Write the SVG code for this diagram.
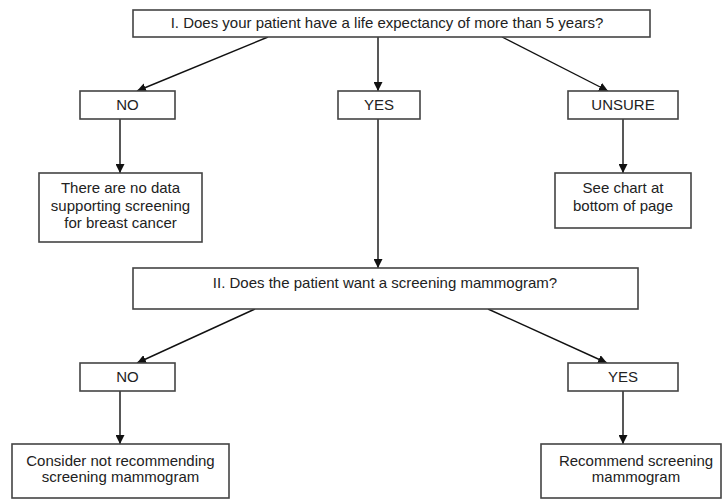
<svg xmlns="http://www.w3.org/2000/svg" width="723" height="500" viewBox="0 0 723 500">
<defs>
<marker id="ah" viewBox="0 0 10 10" refX="10" refY="5" markerWidth="9" markerHeight="9" markerUnits="userSpaceOnUse" orient="auto">
<path d="M0,0 L10,5 L0,10 z" fill="#111"/>
</marker>
<style>
.box{fill:#fff;stroke:#444;stroke-width:1.6}
.t{font-family:"Liberation Sans",Arial,sans-serif;font-size:15px;fill:#222;text-anchor:middle}
.c{stroke:#111;stroke-width:1.4;fill:none;marker-end:url(#ah)}
</style>
</defs>
<rect width="723" height="500" fill="#fff"/>
<g id="connectors">
<line class="c" x1="268" y1="37" x2="137" y2="91"/>
<line class="c" x1="378" y1="37" x2="378" y2="91"/>
<line class="c" x1="502" y1="37" x2="608" y2="91"/>
<line class="c" x1="120" y1="119" x2="120" y2="173"/>
<line class="c" x1="623" y1="119" x2="623" y2="173"/>
<line class="c" x1="378" y1="119" x2="378" y2="268"/>
<line class="c" x1="255" y1="309" x2="137" y2="363"/>
<line class="c" x1="488" y1="309" x2="607" y2="363"/>
<line class="c" x1="120" y1="391" x2="120" y2="444"/>
<line class="c" x1="623" y1="391" x2="623" y2="444"/>
</g>
<g id="q1">
<rect class="box" x="133" y="10" width="517" height="27"/>
<text class="t" x="387" y="28">I. Does your patient have a life expectancy of more than 5 years?</text>
</g>
<g id="no1">
<rect class="box" x="80" y="91" width="95" height="28"/>
<text class="t" x="127.5" y="110">NO</text>
</g>
<g id="yes1">
<rect class="box" x="338" y="91" width="82" height="28"/>
<text class="t" x="379" y="110">YES</text>
</g>
<g id="unsure">
<rect class="box" x="568" y="91" width="110" height="28"/>
<text class="t" x="623" y="110">UNSURE</text>
</g>
<g id="nodata">
<rect class="box" x="39" y="173" width="163" height="69"/>
<text class="t" x="120.5" y="193">There are no data</text>
<text class="t" x="120.5" y="211">supporting screening</text>
<text class="t" x="120.5" y="228">for breast cancer</text>
</g>
<g id="seechart">
<rect class="box" x="555" y="173" width="136" height="55"/>
<text class="t" x="623" y="193">See chart at</text>
<text class="t" x="623" y="211">bottom of page</text>
</g>
<g id="q2">
<rect class="box" x="133" y="268" width="505" height="41"/>
<text class="t" x="385" y="288">II. Does the patient want a screening mammogram?</text>
</g>
<g id="no2">
<rect class="box" x="80" y="363" width="95" height="28"/>
<text class="t" x="127.5" y="382">NO</text>
</g>
<g id="yes2">
<rect class="box" x="568" y="363" width="110" height="28"/>
<text class="t" x="623" y="382">YES</text>
</g>
<g id="consider">
<rect class="box" x="12" y="444" width="217" height="54"/>
<text class="t" x="120.5" y="466">Consider not recommending</text>
<text class="t" x="120.5" y="482">screening mammogram</text>
</g>
<g id="recommend">
<rect class="box" x="541" y="444" width="180" height="54"/>
<text class="t" x="636" y="466">Recommend screening</text>
<text class="t" x="636" y="482">mammogram</text>
</g>
</svg>
